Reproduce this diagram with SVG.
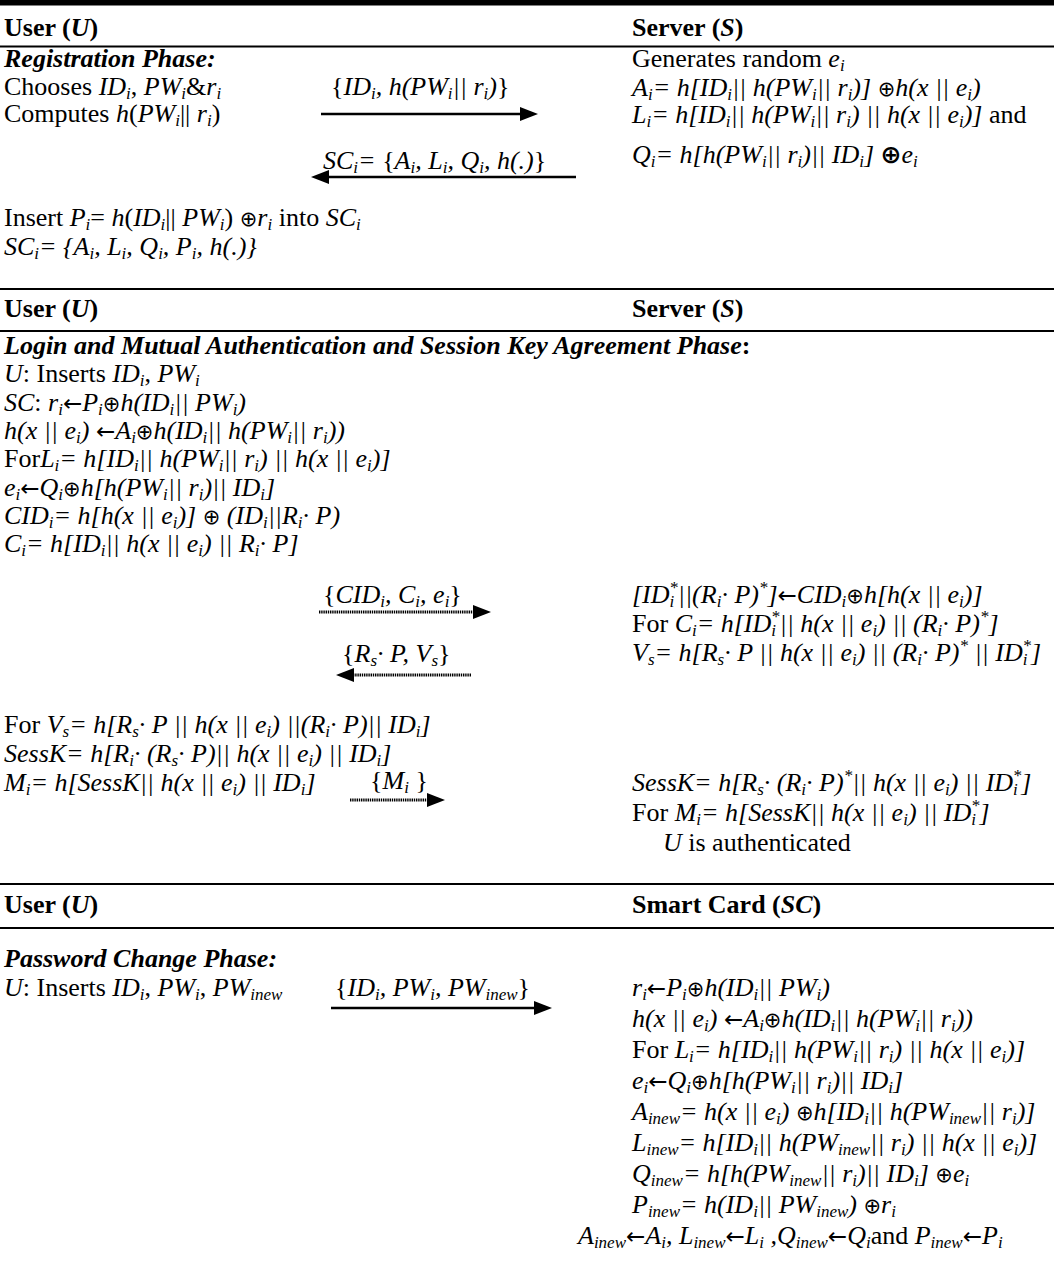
<svg xmlns="http://www.w3.org/2000/svg" width="1054" height="1268" viewBox="0 0 1054 1268">
<style>
text{font-family:"Liberation Serif","Times New Roman",serif;font-size:26px;fill:#000}
.b{font-weight:bold}
.it{font-style:italic}
.r{font-style:normal}
.i{font-style:italic}
.s{font-size:17px;baseline-shift:-4px}
.u{font-size:17px;baseline-shift:10px}
.ar{font-family:"DejaVu Sans",sans-serif;font-style:normal;font-size:23px}
.ox{font-family:"DejaVu Sans",sans-serif;font-style:normal;font-size:21px}
.oxb{font-family:"DejaVu Sans",sans-serif;font-style:normal;font-weight:bold;font-size:25px}
.rule{stroke:#000;stroke-width:2}
.arr{stroke:#000;stroke-width:2.6;fill:none;marker-end:url(#ah)}
.dot{stroke:#000;stroke-width:3;fill:none;stroke-dasharray:1.4 0.8;marker-end:url(#ah)}
</style>
<defs>
<marker id="ah" markerUnits="userSpaceOnUse" viewBox="0 0 18 14" refX="9" refY="7" markerWidth="18" markerHeight="14" orient="auto">
<path d="M0,0 L18,7 L0,14 z" fill="#000"/>
</marker>
</defs>
<rect width="1054" height="1268" fill="#fff"/>

<g id="rules">
<rect x="0" y="0" width="1054" height="5.5" fill="#000"/>
<line class="rule" x1="0" y1="46.5" x2="1054" y2="46.5"/>
<line class="rule" x1="0" y1="289" x2="1054" y2="289"/>
<line class="rule" x1="0" y1="331" x2="1054" y2="331"/>
<line class="rule" x1="0" y1="884" x2="1054" y2="884"/>
<line class="rule" x1="0" y1="928" x2="1054" y2="928"/>
</g>

<g id="registration-user">
<text x="4" y="36" class="b">User (<tspan class="i">U</tspan>)</text>
<text x="4" y="67" class="b it">Registration Phase:</text>
<text x="4" y="95">Chooses <tspan class="i">ID</tspan><tspan class="s i">i</tspan>, <tspan class="i">PW</tspan><tspan class="s i">i</tspan>&amp;<tspan class="i">r</tspan><tspan class="s i">i</tspan></text>
<text x="4" y="122">Computes <tspan class="i">h</tspan>(<tspan class="i">PW</tspan><tspan class="s i">i</tspan>|| <tspan class="i">r</tspan><tspan class="s i">i</tspan>)</text>
<text x="4" y="226">Insert <tspan class="i">P</tspan><tspan class="s i">i</tspan>= <tspan class="i">h</tspan>(<tspan class="i">ID</tspan><tspan class="s i">i</tspan>|| <tspan class="i">PW</tspan><tspan class="s i">i</tspan>) <tspan class="ox">⊕</tspan><tspan class="i">r</tspan><tspan class="s i">i</tspan> into <tspan class="i">SC</tspan><tspan class="s i">i</tspan></text>
<text x="4" y="255" class="it">SC<tspan class="s">i</tspan>= {A<tspan class="s">i</tspan>, L<tspan class="s">i</tspan>, Q<tspan class="s">i</tspan>, P<tspan class="s">i</tspan>, h(.)}</text>
</g>

<g id="registration-server">
<text x="632" y="36" class="b">Server (<tspan class="i">S</tspan>)</text>
<text x="632" y="67">Generates random <tspan class="i">e</tspan><tspan class="s i">i</tspan></text>
<text x="632" y="96" class="it">A<tspan class="s">i</tspan>= h[ID<tspan class="s">i</tspan>|| h(PW<tspan class="s">i</tspan>|| r<tspan class="s">i</tspan>)] <tspan class="ox">⊕</tspan>h(x || e<tspan class="s">i</tspan>)</text>
<text x="632" y="123" class="it">L<tspan class="s">i</tspan>= h[ID<tspan class="s">i</tspan>|| h(PW<tspan class="s">i</tspan>|| r<tspan class="s">i</tspan>) || h(x || e<tspan class="s">i</tspan>)] <tspan class="r">and</tspan></text>
<text x="632" y="163" class="it">Q<tspan class="s">i</tspan>= h[h(PW<tspan class="s">i</tspan>|| r<tspan class="s">i</tspan>)|| ID<tspan class="s">i</tspan>] <tspan class="oxb">⊕</tspan>e<tspan class="s">i</tspan></text>
</g>

<g id="registration-messages">
<text x="331" y="95" class="it"><tspan class="r">{</tspan>ID<tspan class="s">i</tspan>, h(PW<tspan class="s">i</tspan>|| r<tspan class="s">i</tspan>)<tspan class="r">}</tspan></text>
<text x="323" y="169" class="it">SC<tspan class="s">i</tspan>= <tspan class="r">{</tspan>A<tspan class="s">i</tspan>, L<tspan class="s">i</tspan>, Q<tspan class="s">i</tspan>, h(.)<tspan class="r">}</tspan></text>
</g>

<g id="login-user">
<text x="4" y="317" class="b">User (<tspan class="i">U</tspan>)</text>
<text x="4" y="354" class="b it">Login and Mutual Authentication and Session Key Agreement Phase<tspan class="r">:</tspan></text>
<text x="4" y="382"><tspan class="i">U</tspan>: Inserts <tspan class="i">ID</tspan><tspan class="s i">i</tspan>, <tspan class="i">PW</tspan><tspan class="s i">i</tspan></text>
<text x="4" y="411" class="it">SC<tspan class="r">:</tspan> r<tspan class="s">i</tspan><tspan class="ar">←</tspan>P<tspan class="s">i</tspan><tspan class="ox">⊕</tspan>h(ID<tspan class="s">i</tspan>|| PW<tspan class="s">i</tspan>)</text>
<text x="4" y="439" class="it">h(x || e<tspan class="s">i</tspan>) <tspan class="ar">←</tspan>A<tspan class="s">i</tspan><tspan class="ox">⊕</tspan>h(ID<tspan class="s">i</tspan>|| h(PW<tspan class="s">i</tspan>|| r<tspan class="s">i</tspan>))</text>
<text x="4" y="467" class="it"><tspan class="r">For</tspan>L<tspan class="s">i</tspan>= h[ID<tspan class="s">i</tspan>|| h(PW<tspan class="s">i</tspan>|| r<tspan class="s">i</tspan>) || h(x || e<tspan class="s">i</tspan>)]</text>
<text x="4" y="496" class="it">e<tspan class="s">i</tspan><tspan class="ar">←</tspan>Q<tspan class="s">i</tspan><tspan class="ox">⊕</tspan>h[h(PW<tspan class="s">i</tspan>|| r<tspan class="s">i</tspan>)|| ID<tspan class="s">i</tspan>]</text>
<text x="4" y="524" class="it">CID<tspan class="s">i</tspan>= h[h(x || e<tspan class="s">i</tspan>)] <tspan class="ox">⊕</tspan> (ID<tspan class="s">i</tspan>||R<tspan class="s">i</tspan>· P)</text>
<text x="4" y="552" class="it">C<tspan class="s">i</tspan>= h[ID<tspan class="s">i</tspan>|| h(x || e<tspan class="s">i</tspan>) || R<tspan class="s">i</tspan>· P]</text>
<text x="4" y="733" class="it"><tspan class="r">For</tspan> V<tspan class="s">s</tspan>= h[R<tspan class="s">s</tspan>· P || h(x || e<tspan class="s">i</tspan>) ||(R<tspan class="s">i</tspan>· P)|| ID<tspan class="s">i</tspan>]</text>
<text x="4" y="762" class="it">SessK= h[R<tspan class="s">i</tspan>· (R<tspan class="s">s</tspan>· P)|| h(x || e<tspan class="s">i</tspan>) || ID<tspan class="s">i</tspan>]</text>
<text x="4" y="791" class="it">M<tspan class="s">i</tspan>= h[SessK|| h(x || e<tspan class="s">i</tspan>) || ID<tspan class="s">i</tspan>]</text>
</g>

<g id="login-server">
<text x="632" y="317" class="b">Server (<tspan class="i">S</tspan>)</text>
<text x="632" y="603" class="it">[ID<tspan class="s">i</tspan><tspan class="u" dx="-5">*</tspan>||(R<tspan class="s">i</tspan>· P)<tspan class="u">*</tspan>]<tspan class="ar">←</tspan>CID<tspan class="s">i</tspan><tspan class="ox">⊕</tspan>h[h(x || e<tspan class="s">i</tspan>)]</text>
<text x="632" y="632" class="it"><tspan class="r">For</tspan> C<tspan class="s">i</tspan>= h[ID<tspan class="s">i</tspan><tspan class="u" dx="-5">*</tspan>||  h(x || e<tspan class="s">i</tspan>) || (R<tspan class="s">i</tspan>· P)<tspan class="u">*</tspan>]</text>
<text x="632" y="661" class="it">V<tspan class="s">s</tspan>= h[R<tspan class="s">s</tspan>· P || h(x || e<tspan class="s">i</tspan>) || (R<tspan class="s">i</tspan>· P)<tspan class="u">*</tspan> || ID<tspan class="s">i</tspan><tspan class="u" dx="-5">*</tspan>]</text>
<text x="632" y="791" class="it">SessK= h[R<tspan class="s">s</tspan>· (R<tspan class="s">i</tspan>· P)<tspan class="u">*</tspan>|| h(x || e<tspan class="s">i</tspan>) || ID<tspan class="s">i</tspan><tspan class="u" dx="-5">*</tspan>]</text>
<text x="632" y="821" class="it"><tspan class="r">For</tspan> M<tspan class="s">i</tspan>= h[SessK|| h(x || e<tspan class="s">i</tspan>) || ID<tspan class="s">i</tspan><tspan class="u" dx="-5">*</tspan>]</text>
<text x="663" y="851"><tspan class="i">U</tspan> is authenticated</text>
</g>

<g id="login-messages">
<text x="323" y="603" class="it"><tspan class="r">{</tspan>CID<tspan class="s">i</tspan>, C<tspan class="s">i</tspan>, e<tspan class="s">i</tspan><tspan class="r">}</tspan></text>
<text x="342" y="662" class="it"><tspan class="r">{</tspan>R<tspan class="s">s</tspan>· P, V<tspan class="s">s</tspan><tspan class="r">}</tspan></text>
<text x="370" y="789" class="it"><tspan class="r">{</tspan>M<tspan class="s">i</tspan> <tspan class="r">}</tspan></text>
</g>

<g id="password-user">
<text x="4" y="913" class="b">User (<tspan class="i">U</tspan>)</text>
<text x="4" y="967" class="b it">Password Change Phase:</text>
<text x="4" y="996"><tspan class="i">U</tspan>: Inserts <tspan class="i">ID</tspan><tspan class="s i">i</tspan>, <tspan class="i">PW</tspan><tspan class="s i">i</tspan>, <tspan class="i">PW</tspan><tspan class="s i">inew</tspan></text>
</g>

<g id="password-smartcard">
<text x="632" y="913" class="b">Smart Card (<tspan class="i">SC</tspan>)</text>
<text x="632" y="996" class="it">r<tspan class="s">i</tspan><tspan class="ar">←</tspan>P<tspan class="s">i</tspan><tspan class="ox">⊕</tspan>h(ID<tspan class="s">i</tspan>|| PW<tspan class="s">i</tspan>)</text>
<text x="632" y="1027" class="it">h(x || e<tspan class="s">i</tspan>) <tspan class="ar">←</tspan>A<tspan class="s">i</tspan><tspan class="ox">⊕</tspan>h(ID<tspan class="s">i</tspan>|| h(PW<tspan class="s">i</tspan>|| r<tspan class="s">i</tspan>))</text>
<text x="632" y="1058" class="it"><tspan class="r">For</tspan> L<tspan class="s">i</tspan>= h[ID<tspan class="s">i</tspan>|| h(PW<tspan class="s">i</tspan>|| r<tspan class="s">i</tspan>) || h(x || e<tspan class="s">i</tspan>)]</text>
<text x="632" y="1089" class="it">e<tspan class="s">i</tspan><tspan class="ar">←</tspan>Q<tspan class="s">i</tspan><tspan class="ox">⊕</tspan>h[h(PW<tspan class="s">i</tspan>|| r<tspan class="s">i</tspan>)|| ID<tspan class="s">i</tspan>]</text>
<text x="632" y="1120" class="it">A<tspan class="s">inew</tspan>= h(x || e<tspan class="s">i</tspan>) <tspan class="ox">⊕</tspan>h[ID<tspan class="s">i</tspan>|| h(PW<tspan class="s">inew</tspan>|| r<tspan class="s">i</tspan>)]</text>
<text x="632" y="1151" class="it">L<tspan class="s">inew</tspan>= h[ID<tspan class="s">i</tspan>|| h(PW<tspan class="s">inew</tspan>|| r<tspan class="s">i</tspan>) || h(x || e<tspan class="s">i</tspan>)]</text>
<text x="632" y="1182" class="it">Q<tspan class="s">inew</tspan>= h[h(PW<tspan class="s">inew</tspan>|| r<tspan class="s">i</tspan>)|| ID<tspan class="s">i</tspan>] <tspan class="ox">⊕</tspan>e<tspan class="s">i</tspan></text>
<text x="632" y="1213" class="it">P<tspan class="s">inew</tspan>= h(ID<tspan class="s">i</tspan>|| PW<tspan class="s">inew</tspan>) <tspan class="ox">⊕</tspan>r<tspan class="s">i</tspan></text>
<text x="578" y="1244" class="it">A<tspan class="s">inew</tspan><tspan class="ar">←</tspan>A<tspan class="s">i</tspan>, L<tspan class="s">inew</tspan><tspan class="ar">←</tspan>L<tspan class="s">i</tspan> ,Q<tspan class="s">inew</tspan><tspan class="ar">←</tspan>Q<tspan class="s">i</tspan><tspan class="r">and</tspan> P<tspan class="s">inew</tspan><tspan class="ar">←</tspan>P<tspan class="s">i</tspan></text>
</g>

<g id="password-messages">
<text x="335" y="996" class="it"><tspan class="r">{</tspan>ID<tspan class="s">i</tspan>, PW<tspan class="s">i</tspan>, PW<tspan class="s">inew</tspan><tspan class="r">}</tspan></text>
</g>

<g id="connectors">
<line class="arr" x1="321" y1="114" x2="529" y2="114"/>
<line class="arr" x1="576" y1="177" x2="320" y2="177"/>
<line class="dot" x1="319" y1="612" x2="482" y2="612"/>
<line class="dot" x1="471" y1="675" x2="345" y2="675"/>
<line class="dot" x1="350" y1="800" x2="436" y2="800"/>
<line class="arr" x1="331" y1="1008" x2="543" y2="1008"/>
</g>
</svg>
